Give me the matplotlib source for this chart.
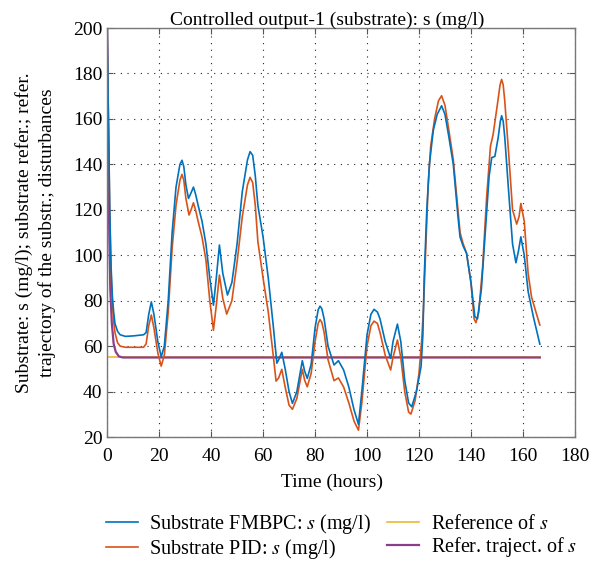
import matplotlib
matplotlib.use("Agg")
import matplotlib.pyplot as plt

plt.rcParams['font.family'] = ['Liberation Serif', 'DejaVu Serif']
plt.rcParams['mathtext.fontset'] = 'stix'

# FMBPC substrate response
t_fmbpc = [0, 0.5, 1.0, 1.5, 2.0, 2.5, 3.0, 4.0, 5.0, 7, 10, 14, 15, 16, 17, 18, 19.5, 20.8,
           22, 23.5, 25, 26.5, 28, 28.8, 29.5, 30.3, 31.3, 32.3, 33.2, 34, 35, 36.5, 38, 39.5,
           40.9, 42, 43.2, 44.5, 46.3, 48, 50, 52, 54, 55, 56, 57, 58, 60, 62, 64, 65.3, 66,
           67.2, 68.5, 70, 71.3, 73, 75.1, 76, 77, 78.5, 80, 81.2, 81.9, 82.6, 83.5, 85, 87.3,
           89, 91, 93, 95, 96.7, 98, 100, 101.5, 102.7, 104, 105, 107, 109.1, 110, 111.7, 113,
           114.5, 116, 117.2, 119, 120.8, 121.5, 122, 123, 124, 125.5, 127, 128.7, 130, 131.5,
           133.2, 135, 135.8, 137, 138.3, 140, 141.5, 142.5, 144, 145.5, 147, 148, 149.2,
           150.5, 151.3, 151.8, 152.4, 153, 154.5, 156, 157.3, 158.3, 159.2, 160.5, 162, 164,
           166.5]
s_fmbpc = [200, 160, 120, 95, 82, 75, 70, 66.5, 65, 64.3, 64.5, 65, 66, 74, 79.5, 74, 62, 55.3,
           60, 80, 110, 130, 140, 141.8, 139, 131, 125, 127.5, 130, 127, 122, 115, 105, 90,
           78, 90, 104.5, 92, 82.5, 88, 105, 128, 142, 145.6, 144, 135, 122, 108, 90, 68, 52.5, 54,
           57.3, 50, 40, 34.8, 40, 53.6, 49, 45.8, 52, 68, 76, 77.6, 76.5, 72, 60, 51.7,
           53.6, 49.5, 42, 32, 25.6, 40, 65, 74, 76.2, 75, 72, 62, 54.6, 62, 69.7, 62,
           45, 35, 33.3, 40, 51, 65, 90, 120, 140, 155, 162, 165.8, 162, 152,
           140, 117, 108, 104, 100.8, 88, 73, 72, 85, 110, 135, 143, 143.5,
           152, 159, 161.4, 159, 152, 128, 105, 96.7, 102, 108.1, 100, 84, 73,
           60.9]

# PID substrate response
t_pid = [0, 0.5, 1.0, 1.5, 2, 2.5, 3, 4, 5, 7, 10, 14, 15, 16, 17, 18, 19.5, 20.8, 22, 23.5,
         25, 26.5, 28, 28.8, 29.5, 30.3, 31.5, 32.3, 33.2, 34, 35, 36.5, 38, 39.5, 40.9, 42, 43.2,
         44.5, 46, 48, 50, 52, 54, 55, 56, 57, 58, 60, 62, 64, 65, 66, 67.2, 68.5, 70, 71.3, 73,
         75.1, 76, 77, 78.5, 80, 81.2, 81.9, 82.6, 83.5, 85, 87.3, 89, 91, 93, 95, 96.7, 98, 100,
         101.5, 102.7, 104, 105, 107, 109.1, 110, 111.7, 113, 114.5, 116, 116.9, 118.5, 120, 121,
         121.7, 122.5, 123.5, 124.5, 126, 127.5, 128.7, 130, 131.5, 133.2, 135, 135.8, 137,
         138.3, 140, 141.2, 141.9, 143, 144.5, 146, 147.5, 148.5, 150, 151.2, 151.8, 152.4, 153,
         154.5, 156, 157.6, 158.5, 159.2, 160.5, 162, 163.3, 165, 166.5]
s_pid = [200, 158, 118, 92, 79, 71, 66, 61.5, 60, 59.5, 59.5, 59.5, 61, 69, 73.7, 68, 57, 51.2, 56, 75,
         103, 122, 133, 135.6, 133, 125, 117.7, 120, 123.1, 120, 115, 108, 98, 80, 67, 78, 91.3,
         81, 74.1, 80, 97, 117, 131, 134.3, 132, 122, 106, 90, 75, 55, 44.6, 46, 49.8, 42, 34, 32.2, 37,
         49.8, 45, 42.1, 48, 62, 70, 71.7, 70.5, 66, 54, 44.8, 46, 42, 35, 27, 23, 35, 60,
         69, 71, 70, 66, 56, 49.5, 55, 62.7, 55, 40, 31, 30.1, 36, 48, 62,
         76, 100, 130, 148, 160, 168, 170.2, 166, 155, 142, 120, 110, 105,
         101, 88, 72, 70.3, 75, 95, 125, 148, 153, 165, 175, 177.4, 175, 168,
         145, 120, 113.7, 117, 122.8, 115, 92, 81.7, 75, 69.3]

# reference and reference trajectory
t_ref = [0, 166.5]
s_ref = [55, 55]
t_traj = [0, 0.4, 0.8, 1.2, 1.8, 2.5, 3.3, 4.5, 6, 166.5]
s_traj = [200, 150, 110, 85, 70, 61, 57.5, 55.5, 55, 55]

fig = plt.figure(figsize=(6.02, 5.61), dpi=100)
ax = fig.add_axes([0.178, 0.221, 0.777, 0.729])

l3, = ax.plot(t_ref, s_ref, color='#EDB120', lw=1.1, label='Reference of $s$')
l4, = ax.plot(t_traj, s_traj, color='#8A3F8D', lw=1.6, label='Refer. traject. of $s$')
l2, = ax.plot(t_pid, s_pid, color='#D95319', lw=1.2, label='Substrate PID: $s$ (mg/l)')
l1, = ax.plot(t_fmbpc, s_fmbpc, color='#0072BD', lw=1.2, label='Substrate FMBPC: $s$ (mg/l)')

ax.set_xlim(0, 180)
ax.set_ylim(20, 200)
ax.set_xticks(range(0, 181, 20))
ax.set_yticks(range(20, 201, 20))
ax.grid(True, linestyle=(0, (1, 5)), color='#222222', linewidth=0.8)
ax.tick_params(direction='in', labelsize=14, top=True, right=True, length=4, color='#555555')
ax.tick_params(axis='x', pad=8)
for sp in ax.spines.values():
    sp.set_color('#777777')
    sp.set_linewidth(1.0)

ax.set_title('Controlled output-1 (substrate): s (mg/l)', fontsize=14, pad=2, x=0.47)
ax.set_xlabel('Time (hours)', fontsize=14, labelpad=6, x=0.48)
ax.set_ylabel('Substrate: s (mg/l); substrate refer.; refer.\ntrajectory of the substr.; disturbances',
              fontsize=14, labelpad=12, linespacing=1.35)

leg = fig.legend(handles=[l1, l2, l3, l4], ncol=2, loc='upper left',
                 bbox_to_anchor=(0.176, 0.087), frameon=False, fontsize=14.5,
                 handlelength=1.6, columnspacing=0.8, labelspacing=0.05, handletextpad=0.55,
                 borderpad=0, borderaxespad=0)

fig.savefig('out.png', dpi=100)
